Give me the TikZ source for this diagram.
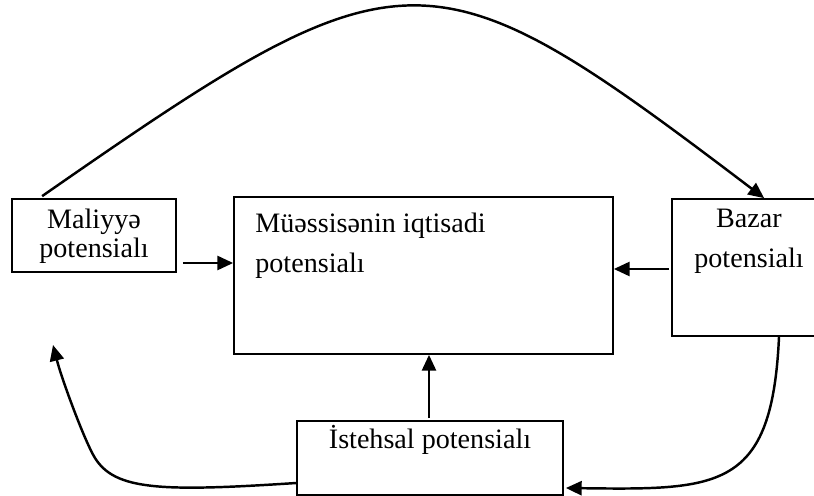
\documentclass[tikz,border=0pt]{standalone}
\usepackage{fontspec}
\setmainfont{Liberation Serif}
\usetikzlibrary{arrows.meta}

\begin{document}
\begin{tikzpicture}[x=0.02cm,y=-0.02cm,
  box/.style={draw,line width=1pt,inner sep=0pt},
  txt/.style={inner sep=0pt,align=center,font=\fontsize{16}{22.7}\selectfont},
  arr/.style={line width=1.4pt,-{Triangle[length=9pt,width=8pt]}}]
\useasboundingbox (0,0) rectangle (814,496);
% boxes
\node[box,minimum width=3.28cm,minimum height=1.46cm] (fin) at (94,235.5) {};
\node[box,minimum width=7.58cm,minimum height=3.14cm] (main) at (423.5,275.5) {};
\node[box,minimum width=3.08cm,minimum height=2.74cm] (baz) at (749,267.5) {};
\node[box,minimum width=5.32cm,minimum height=1.48cm] (ist) at (430,458) {};
% texts
\node[txt,anchor=north,font=\fontsize{16}{16.4}\selectfont] (fintxt) at (94,209) {Maliyyə\\potensialı};
\node[txt,anchor=north west,align=left] (maintxt) at (255,213) {Müəssisənin iqtisadi\\potensialı};
\node[txt,anchor=north] (baztxt) at (749,208.5) {Bazar\\potensialı};
\node[txt,anchor=north] (isttxt) at (430,425) {İstehsal potensialı};
% straight arrows
\draw[arr] ([shift={(6,27.5)}]fin.east) coordinate (a1) -- (a1 -| main.west);
\draw[arr] ([shift={(-2,1.5)}]baz.west) coordinate (a2) -- (a2 -| main.east);
\draw[arr] ([shift={(-1,-2)}]ist.north) coordinate (a3) -- (a3 |- main.south);
% curved arrows
\draw[arr] ([shift={(31,-2)}]fin.north west) .. controls (406,-57) and (428,-57) .. ([shift={(93,0)}]baz.north west);
\draw[arr] ([shift={(0,25)}]ist.west) .. controls (160,492) and (115,490) .. (95,458)
  .. controls (85,442) and (62,380) .. (53,345);
\draw[arr] ([shift={(30,0)}]baz.south) .. controls (772,490) and (720,490) .. ([shift={(2,30)}]ist.east);
\end{tikzpicture}
\end{document}
